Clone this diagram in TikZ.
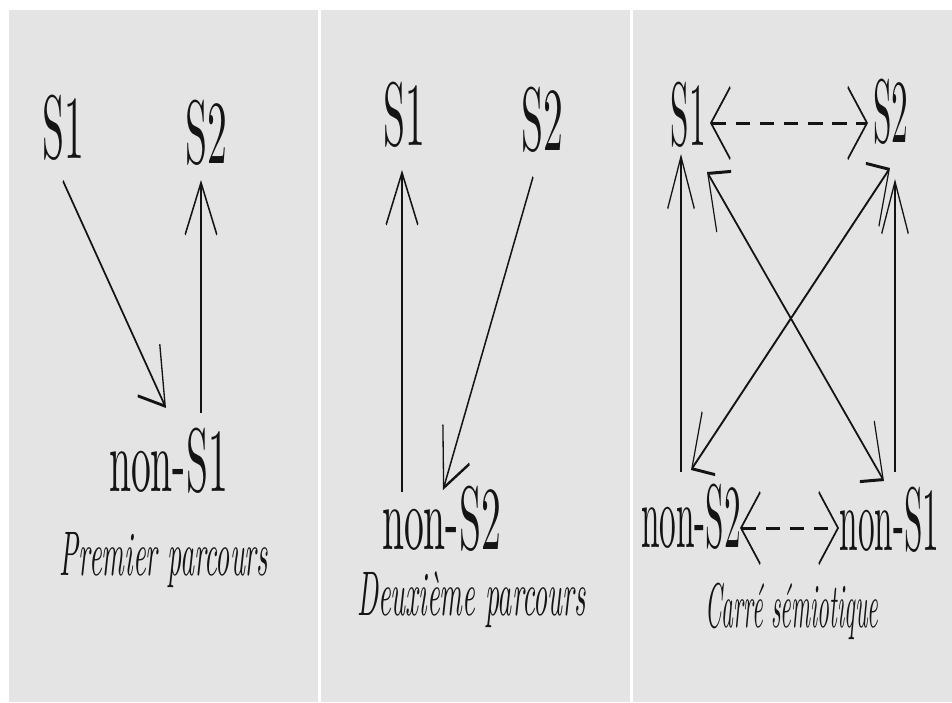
\documentclass[tikz,border=0pt]{standalone}
\usepackage{graphicx}
\usetikzlibrary{arrows.meta}
\definecolor{panelgrey}{RGB}{228,228,228}
\definecolor{ink}{RGB}{20,20,20}
\font\termfont="[lmroman10-regular.otf]" at 90pt
\font\captfont="[lmroman10-italic.otf]" at 63pt
\tikzset{
  term/.style={anchor=base, inner sep=0pt, font=\termfont, text=ink},
  capt/.style={anchor=base, inner sep=0pt, font=\captfont, text=ink},
  barb/.tip={Straight Barb[length=52pt,width=72pt]},
  conn/.style={draw=ink, line width=3pt, -barb},
  biconn/.style={draw=ink, line width=3pt, barb-barb},
  dashconn/.style={biconn, dash pattern=on 40pt off 25pt},
  panel/.style={fill=panelgrey, draw=none},
}
\begin{document}
\begin{tikzpicture}[x=1pt,y=-1pt]
\useasboundingbox (0,0) rectangle (952,702);
\fill[white] (0,0) rectangle (952,702);
\path[panel] (9,10) rectangle (318,702);
\path[panel] (321,10) rectangle (630,702);
\path[panel] (633,10) rectangle (952,702);

% Panels 1 and 2
\begin{scope}[transform canvas={xscale=0.44}, x=2.2727pt]
  \node[term] (p1S1) at (63,158) {S1};
  \node[term] (p1S2) at (206,163) {S2};
  \node[term] (p1n) at (168.5,491) {non-S1};
  \node[capt] (p1cap) at (164,575) {Premier parcours};
  \draw[conn] ([shift={(0,23)}]p1S1.base) -- ([shift={(-2.5,-83)}]p1n.base);
  \draw[conn] ([shift={(32.5,-78)}]p1n.base) -- ([shift={(-5,17)}]p1S2.base);

  \node[term] (p2S1) at (404,145) {S1};
  \node[term] (p2S2) at (542,150) {S2};
  \node[term] (p2n) at (441.5,549) {non-S2};
  \node[capt] (p2cap) at (471.5,615) {Deuxième parcours};
  \draw[conn] ([shift={(-39.5,-57)}]p2n.base) -- ([shift={(-2,25)}]p2S1.base);
  \draw[conn] ([shift={(-9,27)}]p2S2.base) -- ([shift={(1.5,-59)}]p2n.base);
\end{scope}

% Panel 3
\begin{scope}[transform canvas={xscale=0.37}, x=2.7027pt]
  \node[term] (p3S1) at (688.5,145) {S1};
  \node[term] (p3S2) at (891,142) {S2};
  \node[term] (p3nS2) at (691,547) {non-S2};
  \node[term] (p3nS1) at (889.5,550) {non-S1};
  \node[capt] (p3cap) at (792,627) {Carré sémiotique};
  \draw[dashconn] ([shift={(21.5,-22)}]p3S1.base) -- ([shift={(-23,-19)}]p3S2.base);
  \draw[dashconn] ([shift={(49,-19)}]p3nS2.base) -- ([shift={(-50.5,-22)}]p3nS1.base);
  \draw[conn] ([shift={(-10,-75)}]p3nS2.base) -- ([shift={(-7.5,9)}]p3S1.base);
  \draw[conn] ([shift={(5.5,-78)}]p3nS1.base) -- ([shift={(4,37)}]p3S2.base);
  \draw[biconn] ([shift={(0,-77)}]p3nS2.base) -- ([shift={(-1,26)}]p3S2.base);
  \draw[biconn] ([shift={(18.5,27)}]p3S1.base) -- ([shift={(-5.5,-69)}]p3nS1.base);
\end{scope}
\end{tikzpicture}
\end{document}
